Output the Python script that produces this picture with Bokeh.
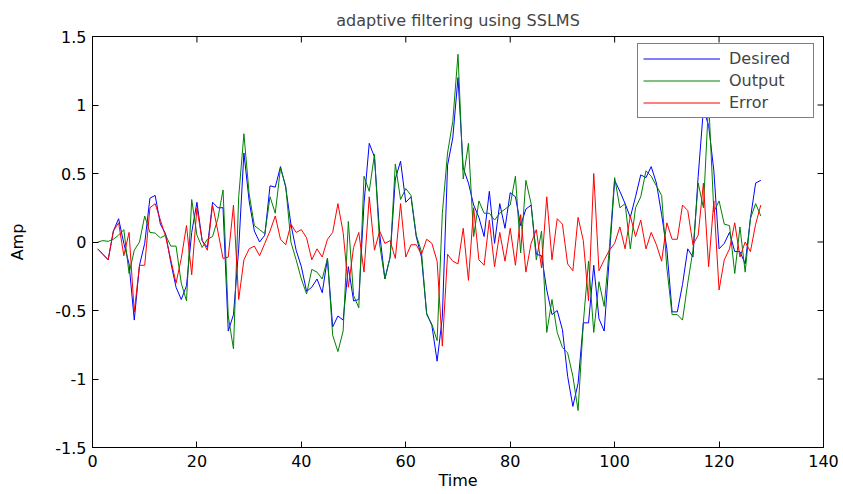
from bokeh.plotting import figure
from bokeh.models import Range1d, FixedTicker, Title, Legend, LegendItem
from bokeh.embed import file_html
from bokeh.resources import INLINE

title_text = "adaptive filtering using SSLMS"
x_label = "Time"
y_label = "Amp"
series_names = ["Desired", "Output", "Error"]

time = list(range(1, 129))

desired = [-0.05, -0.09, -0.13, 0.08, 0.17, -0.01, -0.16, -0.57, -0.17, -0.01,
           0.32, 0.34, 0.13, 0.06, -0.15, -0.33, -0.42, -0.32, 0.07, 0.29,
           0.01, -0.04, 0.29, 0.25, 0.25, -0.65, -0.53, -0.05, 0.65, 0.30,
           0.08, 0.00, 0.05, 0.41, 0.40, 0.55, 0.40, 0.13, -0.06, -0.18,
           -0.36, -0.33, -0.27, -0.37, -0.12, -0.62, -0.54, -0.57, -0.18, -0.43,
           -0.42, 0.28, 0.72, 0.62, 0.06, -0.27, -0.11, 0.46, 0.59, 0.29,
           0.33, 0.04, -0.11, -0.52, -0.61, -0.87, -0.55, 0.56, 0.76, 1.20,
           0.54, 0.43, 0.27, 0.18, 0.04, 0.37, -0.01, 0.28, 0.10, 0.36,
           0.33, 0.12, 0.24, 0.27, -0.09, -0.10, -0.35, -0.53, -0.50, -0.64,
           -0.98, -1.20, -1.03, -0.59, -0.59, -0.17, -0.56, -0.65, -0.10, 0.45,
           0.37, 0.28, 0.18, 0.33, 0.49, 0.47, 0.55, 0.43, 0.20, -0.05,
           -0.51, -0.51, -0.31, -0.05, -0.11, 0.48, 0.97, 0.85, 0.52, -0.05,
           -0.01, 0.07, -0.07, -0.07, -0.16, 0.17, 0.43, 0.45]

output = [0.00, 0.01, 0.005, 0.02, 0.05, 0.09, -0.23, -0.06, 0.00, 0.19,
          0.07, 0.065, 0.03, 0.05, -0.03, -0.03, -0.30, -0.43, 0.31, 0.05,
          -0.04, 0.02, 0.04, 0.17, 0.38, -0.54, -0.78, 0.33, 0.79, 0.35,
          0.12, 0.09, 0.06, 0.33, 0.21, 0.54, 0.41, 0.00, -0.13, -0.27,
          -0.38, -0.20, -0.22, -0.27, -0.12, -0.68, -0.80, -0.65, 0.15, -0.39,
          -0.48, 0.48, 0.37, 0.64, -0.02, -0.27, -0.11, 0.57, 0.31, 0.39,
          0.34, 0.05, -0.07, -0.53, -0.60, -0.72, 0.21, 0.65, 0.88, 1.37,
          0.46, 0.72, 0.04, 0.30, 0.21, 0.21, 0.16, 0.21, 0.24, 0.27,
          0.48, -0.08, 0.45, 0.28, -0.13, 0.08, -0.66, -0.42, -0.66, -0.77,
          -0.81, -0.98, -1.23, -0.59, -0.14, -0.66, -0.29, -0.47, -0.04, 0.47,
          0.25, 0.28, -0.05, 0.25, 0.33, 0.52, 0.48, 0.41, 0.34, -0.19,
          -0.53, -0.53, -0.57, -0.30, -0.06, 0.43, 0.25, 1.03, 0.22, 0.30,
          0.13, 0.12, -0.23, 0.11, -0.22, 0.17, 0.28, 0.19]

error = [-0.05, -0.09, -0.13, 0.08, 0.14, -0.10, 0.07, -0.51, -0.17, -0.17,
         0.25, 0.28, 0.16, 0.04, -0.13, -0.30, -0.12, 0.12, -0.24, 0.25,
         0.01, -0.06, 0.27, 0.08, -0.12, -0.11, 0.27, -0.42, -0.13, -0.05,
         -0.03, -0.10, -0.01, 0.08, 0.19, 0.02, -0.02, 0.13, 0.07, 0.09,
         0.03, -0.13, -0.05, -0.11, 0.02, 0.07, 0.28, 0.07, -0.33, -0.04,
         0.07, -0.22, 0.33, -0.06, 0.08, -0.01, 0.01, -0.12, 0.28, -0.11,
         -0.02, -0.02, -0.09, 0.02, -0.01, -0.14, -0.76, -0.09, -0.14, -0.16,
         0.10, -0.28, 0.25, -0.13, -0.17, 0.16, -0.18, 0.07, -0.14, 0.10,
         -0.17, 0.20, -0.22, -0.01, 0.09, -0.19, 0.33, -0.13, 0.17, 0.13,
         -0.16, -0.21, 0.18, 0.01, -0.43, 0.50, -0.21, -0.13, -0.06, -0.01,
         0.11, -0.05, 0.19, 0.04, 0.16, -0.05, 0.07, -0.02, -0.14, 0.14,
         0.02, 0.02, 0.27, 0.23, -0.02, 0.05, 0.43, -0.18, 0.30, -0.35,
         -0.13, -0.05, 0.14, -0.11, 0.00, -0.07, 0.13, 0.27]

x_min, x_max = 0, 140
y_min, y_max = -1.5, 1.5
x_ticks = [0, 20, 40, 60, 80, 100, 120, 140]
y_ticks = [-1.5, -1, -0.5, 0, 0.5, 1, 1.5]
y_tick_labels = ["-1.5", "-1", "-0.5", "0", "0.5", "1", "1.5"]

FONT = "DejaVu Sans"

p = figure(width=843, height=494, output_backend="svg", toolbar_location=None,
           x_range=Range1d(x_min, x_max), y_range=Range1d(y_min, y_max),
           title_location=None)
p.min_border = 0
p.min_border_left = 92
p.min_border_right = 20
p.min_border_top = 36
p.min_border_bottom = 47
p.background_fill_color = "white"
p.border_fill_color = "white"
p.outline_line_color = "black"
p.outline_line_width = 1
p.grid.visible = False

overrides = {}
for t, lab in zip(y_ticks, y_tick_labels):
    overrides[int(t) if float(t).is_integer() else t] = lab

def style_axis(ax):
    ax.major_tick_in = 6
    ax.major_tick_out = 0
    ax.minor_tick_line_color = None
    ax.axis_line_color = "black"
    ax.major_tick_line_color = "black"
    ax.major_label_text_font = FONT
    ax.major_label_text_font_size = "16px"
    ax.major_label_text_color = "black"
    ax.axis_label_text_font = FONT
    ax.axis_label_text_font_size = "16px"
    ax.axis_label_text_font_style = "normal"
    ax.axis_label_text_color = "black"

xa = p.xaxis[0]
xa.ticker = FixedTicker(ticks=x_ticks)
style_axis(xa)
xa.major_label_standoff = 7
xa.axis_label = x_label
xa.axis_label_standoff = 1

ya = p.yaxis[0]
ya.ticker = FixedTicker(ticks=y_ticks)
style_axis(ya)
ya.major_label_overrides = overrides
ya.major_label_standoff = 6
ya.axis_label = y_label
ya.axis_label_standoff = 25

# inward tick marks on the top and right edges of the box
p.ray(x=x_ticks, y=[y_max] * len(x_ticks), length=6, length_units="screen",
      angle=-90, angle_units="deg", line_color="black", line_width=1)
p.ray(x=[x_max] * len(y_ticks), y=y_ticks, length=6, length_units="screen",
      angle=180, angle_units="deg", line_color="black", line_width=1)

p.add_layout(Title(text=title_text, text_font=FONT, text_font_size="16px",
                   text_font_style="normal", align="center",
                   vertical_align="top", standoff=10), "above")

r1 = p.line(time, desired, line_color="#0000ff", line_width=1)
r2 = p.line(time, output, line_color="#008000", line_width=1)
r3 = p.line(time, error, line_color="#ff0000", line_width=1)

legend = Legend(items=[LegendItem(label=series_names[0], renderers=[r1]),
                       LegendItem(label=series_names[1], renderers=[r2]),
                       LegendItem(label=series_names[2], renderers=[r3])],
                location=(545, 329), margin=0, padding=5, spacing=3,
                glyph_width=77, glyph_height=19, label_height=19,
                label_width=79, label_standoff=9,
                label_text_font=FONT, label_text_font_size="16px",
                border_line_color="black", border_line_width=1,
                background_fill_color="white", background_fill_alpha=1.0)
p.add_layout(legend)

open("out.html", "w").write(file_html(p, INLINE))
